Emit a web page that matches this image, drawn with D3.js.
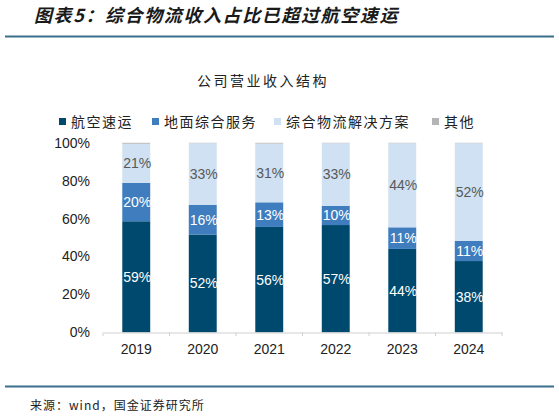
<!DOCTYPE html>
<html><head><meta charset="utf-8">
<script src="https://cdn.jsdelivr.net/npm/d3@7/dist/d3.min.js"></script>
<style>
html,body{margin:0;padding:0;background:#fff;}
svg{display:block;}
</style></head>
<body>
<svg id="c" width="559" height="418"></svg>
<script>
const categories = ["2019","2020","2021","2022","2023","2024"];
const seriesNames = ["航空速运","地面综合服务","综合物流解决方案","其他"];
const airExpress = [58.6, 51.6, 55.6, 56.6, 44.0, 37.6];
const groundService = [20.3, 15.6, 13.0, 10.2, 11.4, 10.6];
const logisticsSolution = [20.6, 32.6, 31.0, 33.0, 44.4, 51.6];
const others = [0.5, 0.2, 0.4, 0.2, 0.2, 0.2];
const yTicks = [0, 20, 40, 60, 80, 100];
const colors = ["#00496e", "#3f7dbf", "#cfe1f2", "#b4b4b4"];
const labelColors = ["#ffffff", "#ffffff", "#595959", null];

const svg = d3.select("#c");
const rows = categories.map((c, i) => ({
  cat: c,
  [seriesNames[0]]: airExpress[i],
  [seriesNames[1]]: groundService[i],
  [seriesNames[2]]: logisticsSolution[i],
  [seriesNames[3]]: others[i]
}));
const stack = d3.stack().keys(seriesNames)(rows);

const x = d3.scaleBand().domain(categories).range([103, 502]).paddingInner(0.58).paddingOuter(0.29);
const y = d3.scaleLinear().domain([0, 100]).range([332.3, 142.8]);

// Header
svg.append("text").attr("x", 34).attr("y", 22)
  .attr("font-family", "'Noto Sans CJK SC'").attr("font-weight", "bold")
  .attr("font-style", "italic").attr("font-size", 18).attr("letter-spacing", 1.6)
  .attr("fill", "#1a1a1a").text("图表5：综合物流收入占比已超过航空速运");
svg.append("line").attr("x1", 5).attr("x2", 554).attr("y1", 36.5).attr("y2", 36.5)
  .attr("stroke", "#3b6f8e").attr("stroke-width", 2);

// Chart title
svg.append("text").attr("x", 263).attr("y", 86).attr("text-anchor", "middle")
  .attr("font-family", "'Noto Sans CJK SC'").attr("font-size", 14).attr("letter-spacing", 2.5)
  .attr("fill", "#222").text("公司营业收入结构");

// Legend
const legendX = [59, 152, 274, 432];
const lg = svg.append("g");
seriesNames.forEach((n, i) => {
  lg.append("rect").attr("x", legendX[i]).attr("y", 118).attr("width", 7).attr("height", 7).attr("fill", colors[i]);
  lg.append("text").attr("x", legendX[i] + 12).attr("y", 127)
    .attr("font-family", "'Noto Sans CJK SC'").attr("font-size", 14).attr("letter-spacing", 1.5)
    .attr("fill", "#222").text(n);
});

// Y axis
const yAxis = svg.append("g").attr("transform", "translate(90,0)")
  .call(d3.axisLeft(y).tickValues(yTicks).tickFormat(d => d + "%").tickSize(0).tickPadding(0));
yAxis.select(".domain").remove();
yAxis.selectAll("text").attr("font-family", "'Liberation Sans', Arial").attr("font-size", 14).attr("fill", "#222");

// Bars
const groups = svg.append("g").selectAll("g").data(stack).join("g").attr("fill", (d, i) => colors[i]);
groups.selectAll("rect").data(d => d).join("rect")
  .attr("x", d => x(d.data.cat)).attr("width", x.bandwidth())
  .attr("y", d => y(d[1])).attr("height", d => y(d[0]) - y(d[1]));

// X axis
const xAxis = svg.append("g").attr("transform", "translate(0,332.5)")
  .call(d3.axisBottom(x).tickSize(0).tickPadding(12).tickSizeOuter(0));
xAxis.select(".domain").attr("stroke", "#d0d0d0").attr("stroke-width", 1.2);
xAxis.selectAll("text").attr("font-family", "'Liberation Sans', Arial").attr("font-size", 14).attr("fill", "#222");
const bounds = categories.map(c => x(c) - x.step() * x.paddingInner() / 2).concat([502]);
svg.append("g").selectAll("line").data(bounds).join("line")
  .attr("x1", d => d).attr("x2", d => d).attr("y1", 332.5).attr("y2", 336)
  .attr("stroke", "#d0d0d0").attr("stroke-width", 1);

// Value labels
stack.forEach((s, i) => {
  if (!labelColors[i]) return;
  svg.append("g").selectAll("text").data(s).join("text")
    .attr("x", d => x(d.data.cat) + x.bandwidth() / 2 + 1)
    .attr("y", d => (y(d[0]) + y(d[1])) / 2 + 5)
    .attr("text-anchor", "middle")
    .attr("font-family", "'Liberation Sans', Arial").attr("font-size", 14)
    .attr("fill", labelColors[i])
    .text(d => Math.round(d[1] - d[0]) + "%");
});

// Footer
svg.append("line").attr("x1", 5).attr("x2", 554).attr("y1", 386.5).attr("y2", 386.5)
  .attr("stroke", "#3b6f8e").attr("stroke-width", 2);
svg.append("text").attr("x", 30).attr("y", 410)
  .attr("font-family", "'Noto Sans CJK SC'").attr("font-size", 12).attr("letter-spacing", 1)
  .attr("fill", "#222").text("来源：wind，国金证券研究所");
</script>
</body></html>
